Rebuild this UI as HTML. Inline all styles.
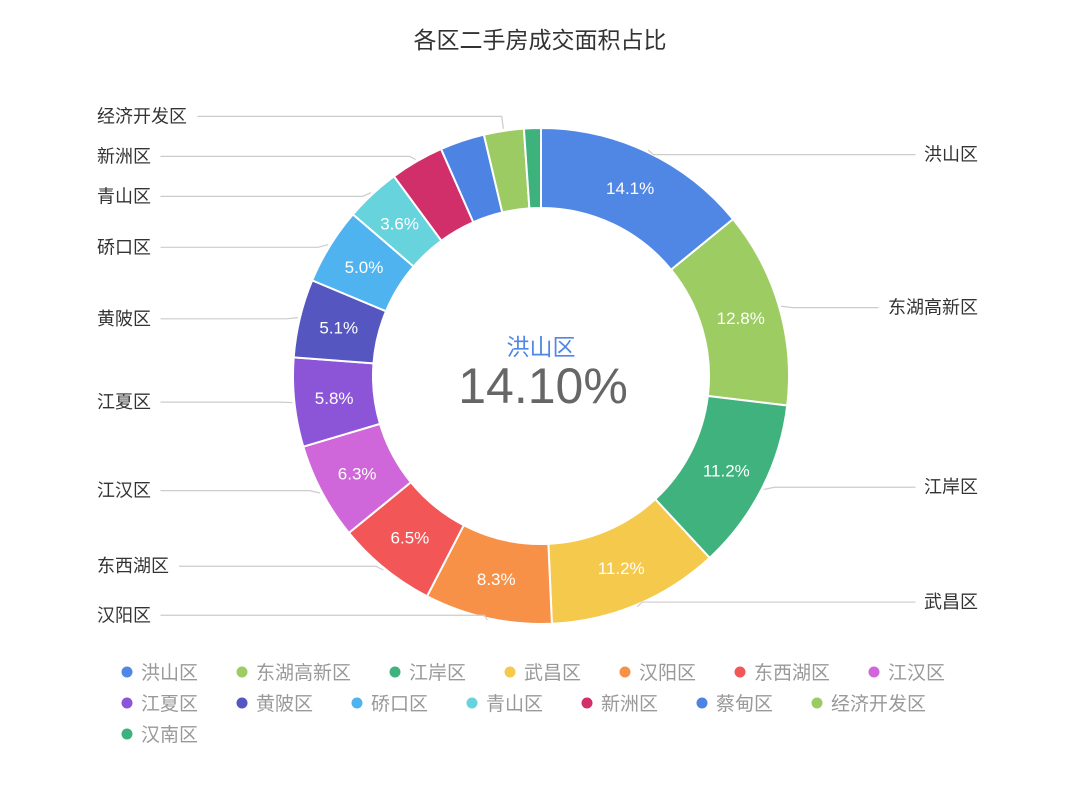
<!DOCTYPE html>
<html><head><meta charset="utf-8">
<style>
body{margin:0;background:#fff;}
svg{display:block;font-family:"Liberation Sans","Noto Sans CJK SC",sans-serif;}
</style></head>
<body>
<svg id="chart" width="1080" height="809" viewBox="0 0 1080 809">
<text x="540" y="48" text-anchor="middle" font-size="23" fill="#333">各区二手房成交面积占比</text>
<g id="slices"></g><g id="lines"></g><g id="labels"></g><g id="legend"></g>
<text x="541" y="355" text-anchor="middle" font-size="23" fill="#5087e5">洪山区</text>
<text x="543" y="403" text-anchor="middle" font-size="50" fill="#666">14.10%</text>
</svg>
<script>
const categories=["洪山区","东湖高新区","江岸区","武昌区","汉阳区","东西湖区","江汉区","江夏区","黄陂区","硚口区","青山区","新洲区","蔡甸区","经济开发区","汉南区"];
const values=[14.1,12.8,11.2,11.2,8.3,6.5,6.3,5.8,5.1,5.0,3.6,3.5,2.9,2.6,1.1];
const showLabel=[1,1,1,1,1,1,1,1,1,1,1,1,0,1,0];
const colors=["#5087e5","#9dcc62","#3fb27e","#f5c94c","#f79148","#f25656","#cf66d9","#8c55d8","#5556bf","#4fb3f0","#66d3dd","#d12f6a","#4d84e3","#9ccb64","#3eb27c"];
const NS="http://www.w3.org/2000/svg";
const cx=541,cy=376,R=248,r0=168;
const total=values.reduce((a,b)=>a+b,0);
function pt(rad,ang){return [cx+rad*Math.sin(ang),cy-rad*Math.cos(ang)];}
function mk(tag,attrs,parent){const e=document.createElementNS(NS,tag);for(const k in attrs)e.setAttribute(k,attrs[k]);parent.appendChild(e);return e;}
const gS=document.getElementById('slices'),gL=document.getElementById('lines'),gT=document.getElementById('labels'),gG=document.getElementById('legend');
let acc=0;const mids=[];
values.forEach((v,i)=>{
  const a0=acc/total*2*Math.PI;acc+=v;const a1=acc/total*2*Math.PI;const m=(a0+a1)/2;mids.push(m);
  const large=(a1-a0)>Math.PI?1:0;
  const [x0,y0]=pt(R,a0),[x1,y1]=pt(R,a1),[x2,y2]=pt(r0,a1),[x3,y3]=pt(r0,a0);
  const p=mk('path',{d:`M${x0},${y0}A${R},${R} 0 ${large} 1 ${x1},${y1}L${x2},${y2}A${r0},${r0} 0 ${large} 0 ${x3},${y3}Z`,fill:colors[i],stroke:'#fff','stroke-width':2},gS);
  
  
  if(v>=3.6){const [tx,ty]=pt(208,m);
    const t=mk('text',{x:tx,y:ty+6,'text-anchor':'middle','font-size':17,fill:'#fff'},gT);t.textContent=v.toFixed(1)+'%';
    
    }
});
// outer labels
const items=[];
values.forEach((v,i)=>{if(!showLabel[i])return;const m=mids[i];items.push({i,m,right:m<Math.PI,y:cy-245*Math.cos(m)});});
const left=items.filter(d=>!d.right).sort((a,b)=>b.y-a.y);
for(let k=1;k<left.length;k++){if(left[k-1].y-left[k].y<40)left[k].y=left[k-1].y-40;}
items.forEach(d=>{
  const [x1,y1]=pt(R+2,d.m);const [x2]=pt(262,d.m);
  const w=categories[d.i].length*18.5;
  const xe=d.right?978-w-7:97+w+8;
  const l=mk('polyline',{points:`${x1},${y1} ${x2},${d.y} ${xe},${d.y}`,fill:'none',stroke:'#ccc','stroke-width':1.2},gL);
  
  
  const t=mk('text',{x:d.right?978:97,y:d.y+6,'text-anchor':d.right?'end':'start','font-size':18,fill:'#333'},gT);
  t.textContent=categories[d.i];
  
  
});
// legend
let lx=127,ly=672;
categories.forEach((c,i)=>{
  const w=c.length*19;
  if(lx+14+w>975){lx=127;ly+=31;}
  const g=mk('g',{},gG);
  
  
  mk('circle',{cx:lx,cy:ly,r:5.5,fill:colors[i]},g);
  const t=mk('text',{x:lx+14,y:ly+7,'font-size':19,fill:'#999'},g);t.textContent=c;
  lx+=14+w+44;
});
</script>
</body></html>
